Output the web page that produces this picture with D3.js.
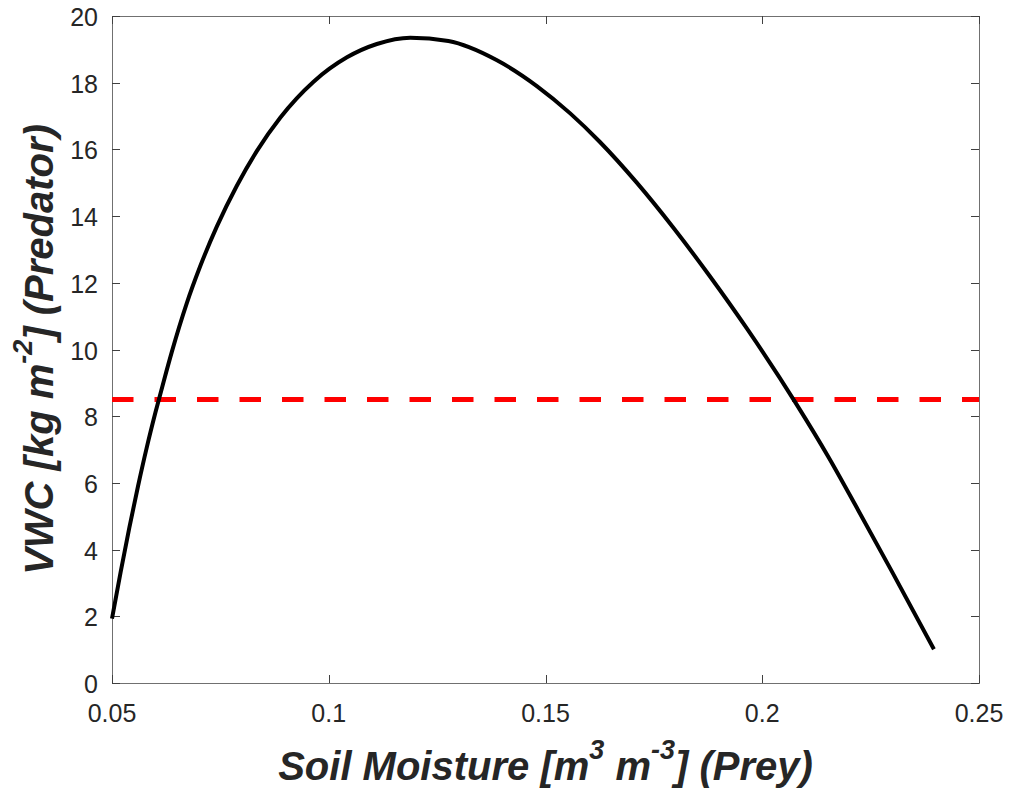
<!DOCTYPE html>
<html>
<head>
<meta charset="utf-8">
<script src="https://cdn.jsdelivr.net/npm/d3@7"></script>
<style>
    body { margin: 0; background: #fff; }
    svg { display: block; font-family: "Liberation Sans", Arial, sans-serif; }
    .tick-label { font-size: 25px; fill: #262626; }
    .axis-title { font-size: 40px; font-weight: 700; font-style: italic; fill: #262626; }
</style>
</head>
<body>
<div id="vis"></div>
<script>
// soil moisture (x) vs VWC (y)
const soilMoisture = [0.0500, 0.0520, 0.0540, 0.0560, 0.0580, 0.0600, 0.0620, 0.0638, 0.0672, 0.0703,
    0.0742, 0.0788, 0.0834, 0.0888, 0.0965, 0.1042, 0.1111, 0.1188, 0.1276, 0.1387,
    0.1480, 0.1557, 0.1625, 0.1710, 0.1795, 0.1880, 0.1966, 0.2077, 0.2153, 0.2221,
    0.2298, 0.2396];
const vwc = [1.93, 3.33, 4.66, 5.90, 7.05, 8.10, 9.08, 9.93, 11.37, 12.48,
    13.69, 14.91, 15.95, 16.95, 18.03, 18.76, 19.16, 19.35, 19.25, 18.68,
    17.90, 17.08, 16.23, 15.01, 13.65, 12.18, 10.60, 8.40, 6.77, 5.19,
    3.37, 1.01];
const threshold = 8.5;

const xTicks = [0.05, 0.1, 0.15, 0.2, 0.25];
const xTickLabels = ["0.05", "0.1", "0.15", "0.2", "0.25"];
const yTicks = [0, 2, 4, 6, 8, 10, 12, 14, 16, 18, 20];

const width = 1010;
const height = 794;
const margin = { left: 112, top: 16, right: 31, bottom: 111 };
const tickLen = 8;

const svg = d3.select("#vis")
    .append("svg")
    .attr("width", width)
    .attr("height", height);

const xScale = d3.scaleLinear()
    .domain([0.05, 0.25])
    .range([margin.left, width - margin.right]);

const yScale = d3.scaleLinear()
    .domain([0, 20])
    .range([height - margin.bottom, margin.top]);

const data = soilMoisture.map((x, i) => ({ x: x, y: vwc[i] }));

// frame
const x0 = xScale.range()[0], x1 = xScale.range()[1];
const y0 = yScale.range()[0], y1 = yScale.range()[1];

svg.append("rect")
    .attr("x", x0 + 0.5)
    .attr("y", y1 + 0.5)
    .attr("width", x1 - x0)
    .attr("height", y0 - y1)
    .attr("fill", "none")
    .attr("stroke", "#707070")
    .attr("stroke-width", 1);

// ticks (inward, mirrored on all sides)
const ticks = svg.append("g").attr("stroke", "#404040").attr("stroke-width", 1);

ticks.selectAll(".xt-bottom")
    .data(xTicks)
    .join("line")
        .attr("class", "xt-bottom")
        .attr("x1", d => Math.round(xScale(d)) + 0.5)
        .attr("x2", d => Math.round(xScale(d)) + 0.5)
        .attr("y1", y0)
        .attr("y2", y0 - tickLen);

ticks.selectAll(".xt-top")
    .data(xTicks)
    .join("line")
        .attr("class", "xt-top")
        .attr("x1", d => Math.round(xScale(d)) + 0.5)
        .attr("x2", d => Math.round(xScale(d)) + 0.5)
        .attr("y1", y1)
        .attr("y2", y1 + tickLen);

ticks.selectAll(".yt-left")
    .data(yTicks)
    .join("line")
        .attr("class", "yt-left")
        .attr("x1", x0)
        .attr("x2", x0 + tickLen)
        .attr("y1", d => Math.round(yScale(d)) + 0.5)
        .attr("y2", d => Math.round(yScale(d)) + 0.5);

ticks.selectAll(".yt-right")
    .data(yTicks)
    .join("line")
        .attr("class", "yt-right")
        .attr("x1", x1)
        .attr("x2", x1 - tickLen)
        .attr("y1", d => Math.round(yScale(d)) + 0.5)
        .attr("y2", d => Math.round(yScale(d)) + 0.5);

// tick labels
svg.selectAll(".x-label")
    .data(xTicks)
    .join("text")
        .attr("class", "tick-label")
        .attr("text-anchor", "middle")
        .attr("x", d => xScale(d))
        .attr("y", y0 + 39)
        .text((d, i) => xTickLabels[i]);

svg.selectAll(".y-label")
    .data(yTicks)
    .join("text")
        .attr("class", "tick-label")
        .attr("text-anchor", "end")
        .attr("x", x0 - 14)
        .attr("y", d => yScale(d) + 10)
        .text(d => d);

// threshold line
svg.append("line")
    .attr("x1", xScale(0.05))
    .attr("x2", xScale(0.25))
    .attr("y1", yScale(threshold))
    .attr("y2", yScale(threshold))
    .attr("stroke", "#ff0000")
    .attr("stroke-width", 5)
    .attr("stroke-dasharray", "21.5 21");

// curve
const line = d3.line()
    .x(d => xScale(d.x))
    .y(d => yScale(d.y))
    .curve(d3.curveMonotoneX);

svg.append("path")
    .datum(data)
    .attr("d", line)
    .attr("fill", "none")
    .attr("stroke", "#000")
    .attr("stroke-width", 4)
    .attr("stroke-linejoin", "round");

// axis titles
const xTitle = svg.append("text")
    .attr("class", "axis-title")
    .attr("text-anchor", "middle")
    .attr("x", (x0 + x1) / 2)
    .attr("y", 780);

xTitle.append("tspan").text("Soil Moisture [m");
xTitle.append("tspan").attr("dy", -21).style("font-size", "27px").text("3");
xTitle.append("tspan").attr("dy", 21).text(" m");
xTitle.append("tspan").attr("dy", -21).style("font-size", "27px").text("-3");
xTitle.append("tspan").attr("dy", 21).text("] (Prey)");

const yTitle = svg.append("text")
    .attr("class", "axis-title")
    .attr("text-anchor", "middle")
    .attr("transform", `translate(53, ${(y0 + y1) / 2}) rotate(-90)`);

yTitle.append("tspan").text("VWC [kg m");
yTitle.append("tspan").attr("dy", -21).style("font-size", "27px").text("-2");
yTitle.append("tspan").attr("dy", 21).text("] (Predator)");
</script>
</body>
</html>
